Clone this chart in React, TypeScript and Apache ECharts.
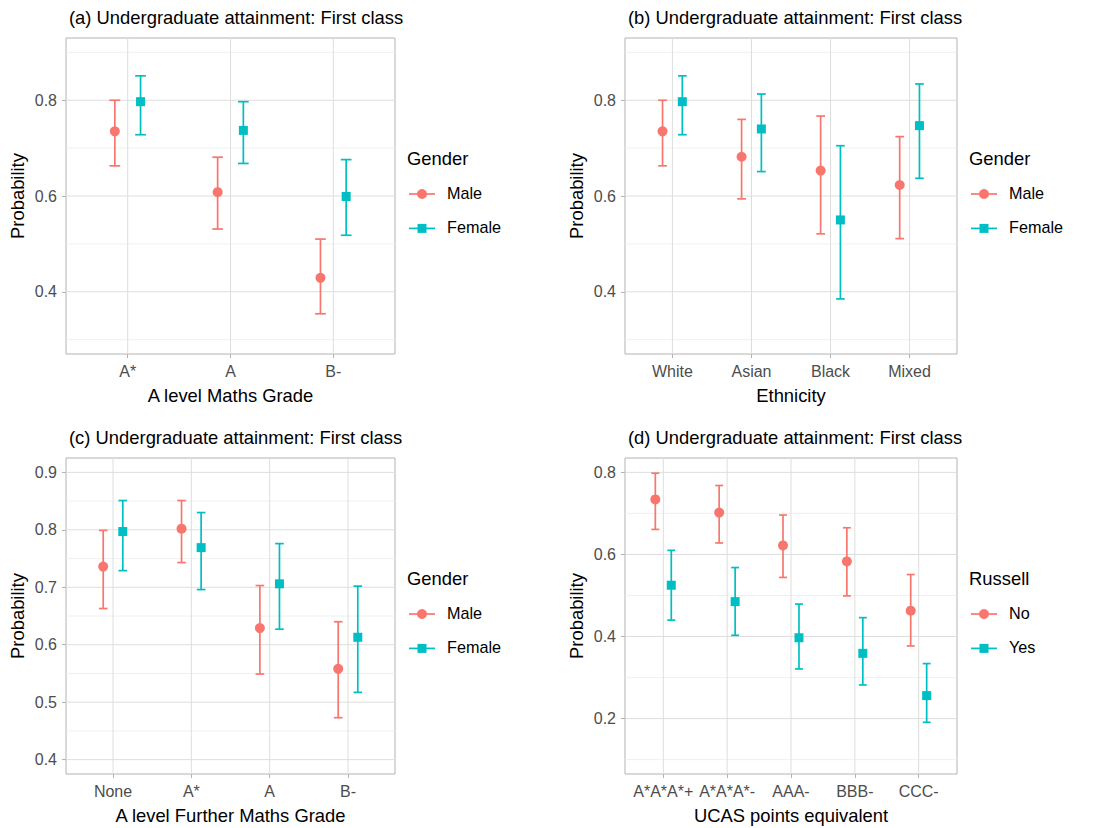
import React, { useEffect, useRef } from "react";
import * as echarts from "echarts";

const RED = "#F8766D";
const CYAN = "#00BFC4";
const FONT = "Liberation Sans, Arial, Helvetica, sans-serif";

// (a) A level Maths Grade
const catsA = ["A*", "A", "B-"];
const maleEstA = [0.735, 0.608, 0.429];
const maleLoA = [0.663, 0.531, 0.354];
const maleHiA = [0.8, 0.681, 0.51];
const femEstA = [0.797, 0.737, 0.599];
const femLoA = [0.728, 0.668, 0.518];
const femHiA = [0.851, 0.797, 0.676];

// (b) Ethnicity
const catsB = ["White", "Asian", "Black", "Mixed"];
const maleEstB = [0.735, 0.682, 0.653, 0.623];
const maleLoB = [0.663, 0.594, 0.521, 0.511];
const maleHiB = [0.8, 0.76, 0.767, 0.724];
const femEstB = [0.797, 0.74, 0.55, 0.747];
const femLoB = [0.728, 0.651, 0.385, 0.637];
const femHiB = [0.851, 0.813, 0.705, 0.834];

// (c) A level Further Maths Grade
const catsC = ["None", "A*", "A", "B-"];
const maleEstC = [0.736, 0.802, 0.629, 0.558];
const maleLoC = [0.663, 0.743, 0.549, 0.473];
const maleHiC = [0.799, 0.851, 0.703, 0.64];
const femEstC = [0.797, 0.769, 0.706, 0.613];
const femLoC = [0.729, 0.696, 0.627, 0.517];
const femHiC = [0.851, 0.83, 0.776, 0.702];

// (d) UCAS points equivalent
const catsD = ["A*A*A*+", "A*A*A*-", "AAA-", "BBB-", "CCC-"];
const noEstD = [0.734, 0.702, 0.622, 0.583, 0.463];
const noLoD = [0.661, 0.628, 0.544, 0.499, 0.377];
const noHiD = [0.798, 0.768, 0.696, 0.665, 0.551];
const yesEstD = [0.525, 0.485, 0.397, 0.359, 0.256];
const yesLoD = [0.44, 0.403, 0.321, 0.282, 0.191];
const yesHiD = [0.61, 0.568, 0.479, 0.446, 0.334];

// y tick labels / gridlines
const yTicksAB = [0.4, 0.6, 0.8];
const yMinorAB = [0.3, 0.5, 0.7, 0.9];
const yTicksC = [0.4, 0.5, 0.6, 0.7, 0.8, 0.9];
const yMinorC = [0.45, 0.55, 0.65, 0.75, 0.85];
const yTicksD = [0.2, 0.4, 0.6, 0.8];
const yMinorD = [0.1, 0.3, 0.5, 0.7];

const legendGender = ["Male", "Female"];
const legendRussell = ["No", "Yes"];

type Group = { name: string; color: string; symbol: string; size: number; est: number[]; lo: number[]; hi: number[] };
type Panel = {
  title: string; xName: string; cats: string[]; groups: Group[];
  yMin: number; yMax: number; yTicks: number[]; yMinor: number[];
  grid: { left: number; top: number; width: number; height: number };
  legendTitle: string; legendNames: string[]; cap: number;
};

const maleG = (est: number[], lo: number[], hi: number[], name = "Male"): Group => ({ name, color: RED, symbol: "circle", size: 10, est, lo, hi });
const femG = (est: number[], lo: number[], hi: number[], name = "Female"): Group => ({ name, color: CYAN, symbol: "rect", size: 9, est, lo, hi });

const panels: Panel[] = [
  {
    title: "(a) Undergraduate attainment: First class", xName: "A level Maths Grade", cats: catsA,
    groups: [maleG(maleEstA, maleLoA, maleHiA), femG(femEstA, femLoA, femHiA)],
    yMin: 0.27, yMax: 0.93, yTicks: yTicksAB, yMinor: yMinorAB,
    grid: { left: 66, top: 38, width: 329, height: 316 }, legendTitle: "Gender", legendNames: legendGender, cap: 0.052,
  },
  {
    title: "(b) Undergraduate attainment: First class", xName: "Ethnicity", cats: catsB,
    groups: [maleG(maleEstB, maleLoB, maleHiB), femG(femEstB, femLoB, femHiB)],
    yMin: 0.27, yMax: 0.93, yTicks: yTicksAB, yMinor: yMinorAB,
    grid: { left: 625, top: 38, width: 332, height: 316 }, legendTitle: "Gender", legendNames: legendGender, cap: 0.055,
  },
  {
    title: "(c) Undergraduate attainment: First class", xName: "A level Further Maths Grade", cats: catsC,
    groups: [maleG(maleEstC, maleLoC, maleHiC), femG(femEstC, femLoC, femHiC)],
    yMin: 0.375, yMax: 0.925, yTicks: yTicksC, yMinor: yMinorC,
    grid: { left: 66, top: 458, width: 329, height: 316 }, legendTitle: "Gender", legendNames: legendGender, cap: 0.055,
  },
  {
    title: "(d) Undergraduate attainment: First class", xName: "UCAS points equivalent", cats: catsD,
    groups: [maleG(noEstD, noLoD, noHiD, "No"), femG(yesEstD, yesLoD, yesHiD, "Yes")],
    yMin: 0.065, yMax: 0.835, yTicks: yTicksD, yMinor: yMinorD,
    grid: { left: 625, top: 458, width: 332, height: 316 }, legendTitle: "Russell", legendNames: legendRussell, cap: 0.062,
  },
];

const DODGE = 0.125;

function buildOption() {
  const grid: any[] = [];
  const xAxis: any[] = [];
  const yAxis: any[] = [];
  const series: any[] = [];
  const title: any[] = [];
  const graphic: any[] = [];

  panels.forEach((p, i) => {
    const n = p.cats.length;
    const idx = p.cats.map((_, k) => k + 1);
    grid.push({ ...p.grid, show: true, borderColor: "#b3b3b3", borderWidth: 1, backgroundColor: "#fff", containLabel: false });
    title.push({
      text: p.title, left: p.grid.left - 2, top: p.grid.top - 35,
      textStyle: { fontFamily: FONT, fontSize: 18.4, fontWeight: "normal", color: "#000" },
    });
    xAxis.push({
      type: "value", gridIndex: i, min: 0.4, max: n + 0.6,
      axisLine: { show: false },
      axisTick: { show: true, customValues: idx, length: 4, lineStyle: { color: "#b3b3b3", width: 1 } },
      axisLabel: {
        customValues: idx, formatter: (v: number) => p.cats[Math.round(v) - 1] ?? "",
        color: "#4d4d4d", fontSize: 16, fontFamily: FONT, margin: 9,
      },
      splitLine: { show: false },
      name: p.xName, nameLocation: "middle", nameGap: 32,
      nameTextStyle: { color: "#000", fontSize: 18.4, fontFamily: FONT },
    });
    yAxis.push({
      type: "value", gridIndex: i, min: p.yMin, max: p.yMax,
      axisLine: { show: false },
      axisTick: { show: true, customValues: p.yTicks, length: 4, lineStyle: { color: "#b3b3b3", width: 1 } },
      axisLabel: {
        customValues: p.yTicks, formatter: (v: number) => v.toFixed(1),
        color: "#4d4d4d", fontSize: 16, fontFamily: FONT, margin: 9,
      },
      splitLine: { show: false },
      name: "Probability", nameLocation: "middle", nameGap: 40,
      nameTextStyle: { color: "#000", fontSize: 18.4, fontFamily: FONT },
    });

    // gridlines
    const gl: number[][] = [];
    p.yMinor.forEach((v) => gl.push([1, v, 1]));
    p.yTicks.forEach((v) => gl.push([1, v, 0]));
    idx.forEach((k) => gl.push([k, (p.yMin + p.yMax) / 2, 2]));
    series.push({
      type: "custom", xAxisIndex: i, yAxisIndex: i, silent: true, z: 1,
      data: gl,
      renderItem: (params: any, api: any) => {
        const cs = params.coordSys;
        const kind = api.value(2);
        const pt = api.coord([api.value(0), api.value(1)]);
        if (kind === 2) {
          return { type: "line", shape: { x1: pt[0], y1: cs.y, x2: pt[0], y2: cs.y + cs.height }, style: { stroke: "#dedede", lineWidth: 1 } };
        }
        return {
          type: "line", shape: { x1: cs.x, y1: pt[1], x2: cs.x + cs.width, y2: pt[1] },
          style: { stroke: kind === 0 ? "#dedede" : "#ececec", lineWidth: kind === 0 ? 1 : 0.8 },
        };
      },
    });

    p.groups.forEach((g, gi) => {
      const off = gi === 0 ? -DODGE : DODGE;
      series.push({
        type: "custom", name: g.name, xAxisIndex: i, yAxisIndex: i, z: 2, silent: true,
        data: idx.map((k, j) => [k + off, g.lo[j], g.hi[j]]),
        encode: { x: 0, y: [1, 2] },
        renderItem: (_params: any, api: any) => {
          const x = api.value(0);
          const lo = api.value(1);
          const hi = api.value(2);
          const a = api.coord([x, lo]);
          const b = api.coord([x, hi]);
          const l = api.coord([x - p.cap, hi]);
          const r = api.coord([x + p.cap, hi]);
          const st = { stroke: g.color, lineWidth: 1.7 };
          return {
            type: "group",
            children: [
              { type: "line", shape: { x1: a[0], y1: a[1], x2: b[0], y2: b[1] }, style: st },
              { type: "line", shape: { x1: l[0], y1: b[1], x2: r[0], y2: b[1] }, style: st },
              { type: "line", shape: { x1: l[0], y1: a[1], x2: r[0], y2: a[1] }, style: st },
            ],
          };
        },
      });
      series.push({
        type: "scatter", name: g.name, xAxisIndex: i, yAxisIndex: i, z: 3, silent: true,
        symbol: g.symbol, symbolSize: g.size,
        itemStyle: { color: g.color, opacity: 1 },
        data: idx.map((k, j) => [k + off, g.est[j]]),
      });
    });

    // legend (drawn)
    const lx = p.grid.left + p.grid.width + 12;
    const ty = p.grid.top + p.grid.height / 2 - 38;
    graphic.push({
      type: "text", left: lx, top: ty - 9,
      style: { text: p.legendTitle, fontSize: 18.4, fontFamily: FONT, fill: "#000" },
    });
    p.groups.forEach((g, gi) => {
      const cy = ty + 36 + gi * 34.4;
      const kx = lx + 2;
      graphic.push({ type: "line", shape: { x1: kx, y1: cy, x2: kx + 26, y2: cy }, style: { stroke: g.color, lineWidth: 1.7 } });
      if (g.symbol === "circle") {
        graphic.push({ type: "circle", shape: { cx: kx + 13, cy, r: 5 }, style: { fill: g.color } });
      } else {
        graphic.push({ type: "rect", shape: { x: kx + 13 - 4.5, y: cy - 4.5, width: 9, height: 9 }, style: { fill: g.color } });
      }
      graphic.push({
        type: "text", left: kx + 38, top: cy - 9,
        style: { text: p.legendNames[gi], fontSize: 16.2, fontFamily: FONT, fill: "#000" },
      });
    });
  });

  return {
    animation: false,
    backgroundColor: "#fff",
    textStyle: { fontFamily: FONT },
    title, grid, xAxis, yAxis, series, graphic,
  };
}

export default function App() {
  const ref = useRef<HTMLDivElement>(null);
  useEffect(() => {
    if (!ref.current) return;
    const chart = echarts.init(ref.current, undefined, { renderer: "svg" });
    chart.setOption(buildOption() as any);
    return () => chart.dispose();
  }, []);
  return <div ref={ref} style={{ position: "absolute", left: 0, top: 0, width: 1106, height: 828 }} />;
}
